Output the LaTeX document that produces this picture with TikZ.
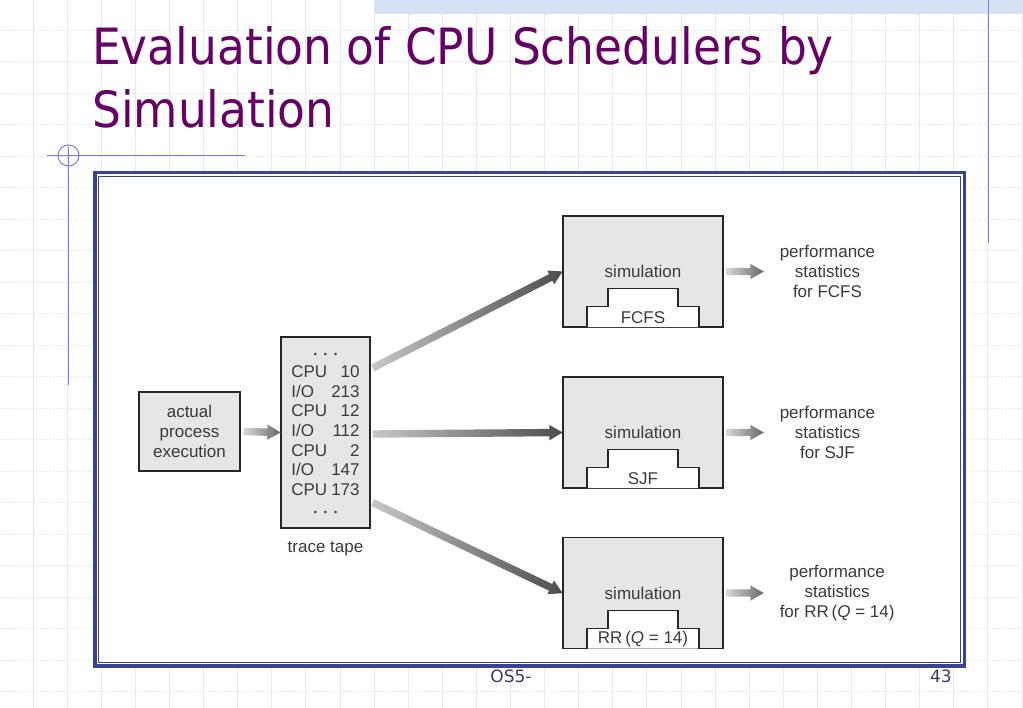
\documentclass[tikz,border=0pt]{standalone}
\usepackage{fontspec}
\setmainfont{Liberation Sans}
\newfontfamily\slidefont{DejaVu Sans}
\usetikzlibrary{positioning,calc,shapes.arrows}
\definecolor{titlepurple}{HTML}{660066}
\definecolor{framenavy}{HTML}{3C4290}
\definecolor{gridline}{HTML}{E6E6F4}
\definecolor{decoblue}{HTML}{7C7CDA}
\definecolor{bandblue}{HTML}{D8E0F4}
\definecolor{inkgray}{HTML}{3A3A3A}
\definecolor{boxgray}{HTML}{E6E6E6}
\definecolor{footnavy}{HTML}{3A3A6E}

\begin{document}
\begin{tikzpicture}[x=1bp,y=-1bp,
  figtext/.style={font=\fontsize{17bp}{19.7bp}\selectfont, text=inkgray, inner sep=0pt},
  graybox/.style={figtext, draw=black!85, line width=1.1bp, fill=boxgray},
  simbox/.style={graybox, minimum width=160bp, minimum height=111bp},
  titletext/.style={font=\slidefont\fontsize{50bp}{63bp}\selectfont, text=titlepurple, inner sep=0pt},
  footer/.style={font=\slidefont\fontsize{17bp}{20bp}\selectfont, text=footnavy, inner sep=0pt},
  fatarrow/.style={single arrow, draw=none, inner xsep=0pt, inner ysep=3.5bp,
    single arrow head extend=4bp, single arrow tip angle=60, sloped, pos=0, anchor=tail},
  bigarrow/.style={fatarrow, left color=black!22, right color=black!70},
  smallarrow/.style={fatarrow, left color=black!15, right color=black!60}]
  \useasboundingbox (0,0) rectangle (1023,708);
  \fill[white] (0,0) rectangle (1023,708);
  % slide background
  \foreach \i in {0,...,29}
    \draw[gridline, line width=0.8bp] ({33+34.1*\i},0) -- ({33+34.1*\i},708);
  \foreach \j in {0,...,21}
    \draw[gridline, line width=0.8bp, dash pattern=on 2bp off 1.5bp] (0,{30+31.5*\j}) -- (1023,{30+31.5*\j});
  \fill[bandblue] (375,0) rectangle (1023,14);
  \draw[decoblue, line width=1bp] (988.5,0) -- (988.5,243);
  \draw[decoblue, line width=1bp] (68.5,147) -- (68.5,385);
  \draw[decoblue, line width=1bp] (47,155.5) -- (245,155.5);
  \draw[decoblue, line width=1bp] (68.5,155.5) circle (10.5bp);

  \node[titletext, anchor=base west] (title) at (92,65) {\scalebox{0.91}[1]{Evaluation of CPU Schedulers by}};
  \node[titletext, anchor=base west] (title2) at (92,128) {\scalebox{0.91}[1]{Simulation}};

  % picture frame
  \draw[framenavy, line width=3.5bp, fill=white] (94.75,172.75) rectangle (964.5,666);
  \draw[framenavy, line width=0.9bp] (98.5,176.5) rectangle (960.5,662.5);

  \node[graybox, minimum width=101bp, minimum height=79bp, align=center] (actual) at (189.5,431.5)
    {actual\\process\\execution};
  \node[graybox, minimum width=89bp, minimum height=191bp] (trace) at (325.5,432.5)
    {\begin{tabular}{@{}l@{\hspace{4bp}}r@{}}
     \multicolumn{2}{c}{\fontsize{9bp}{9bp}\selectfont\textbullet\hspace{7bp}\textbullet\hspace{7bp}\textbullet}\\
     CPU & 10\\ I/O & 213\\ CPU & 12\\ I/O & 112\\ CPU & 2\\ I/O & 147\\ CPU & 173\\
     \multicolumn{2}{c}{\fontsize{9bp}{9bp}\selectfont\textbullet\hspace{7bp}\textbullet\hspace{7bp}\textbullet}
     \end{tabular}};
  \node[figtext, below=13bp of trace] (tapelabel) {trace tape};
  \coordinate (actual from) at ($(actual.east)+(3,0)$);
  \path let \p1=($(trace.west)-(actual from)$) in
    (actual from) -- (trace.west) node[smallarrow, minimum height={veclen(\x1,\y1)}] {};

  \foreach \nm/\y/\dy/\alg/\stat in {fcfs/271.5/-64.5/FCFS/for FCFS,
      sjf/432.5/1.5/SJF/for SJF, rr/593/70/{RR\,(\textit{Q} = 14)}/{for RR\,(\textit{Q} = 14)}}{
    \node[simbox] (\nm) at (643,\y) {simulation};
    \draw[black!85, line width=1.1bp, fill=white] ($(\nm.south)+(-56,-0.55)$) -- ++(0,-20.45) -- ++(21,0)
      -- ++(0,-18) -- ++(70,0) -- ++(0,18) -- ++(21,0) -- ++(0,20.45);
    \node[figtext] (\nm alg) at ($(\nm.south)+(0,-9.5)$) {\alg};
    \node[figtext, align=center, right=56bp of \nm] (\nm stat) {performance\\statistics\\\stat};
    % connectors
    \coordinate (\nm from) at ($(trace.east)+(2,\dy)$);
    \path let \p1=($(\nm.west)-(\nm from)$) in
      (\nm from) -- (\nm.west) node[bigarrow, minimum height={veclen(\x1,\y1)}] {};
    \coordinate (\nm out) at ($(\nm.east)+(2,0)$);
    \coordinate (\nm tip) at ($(\nm.east)+(40,0)$);
    \path (\nm out) -- (\nm tip) node[smallarrow, minimum height=38bp] {};
  }

  \node[footer, anchor=base] (slideref) at (511,682) {OS5-};
  \node[footer, anchor=base east] (pagenum) at (952,682) {43};
\end{tikzpicture}
\end{document}
